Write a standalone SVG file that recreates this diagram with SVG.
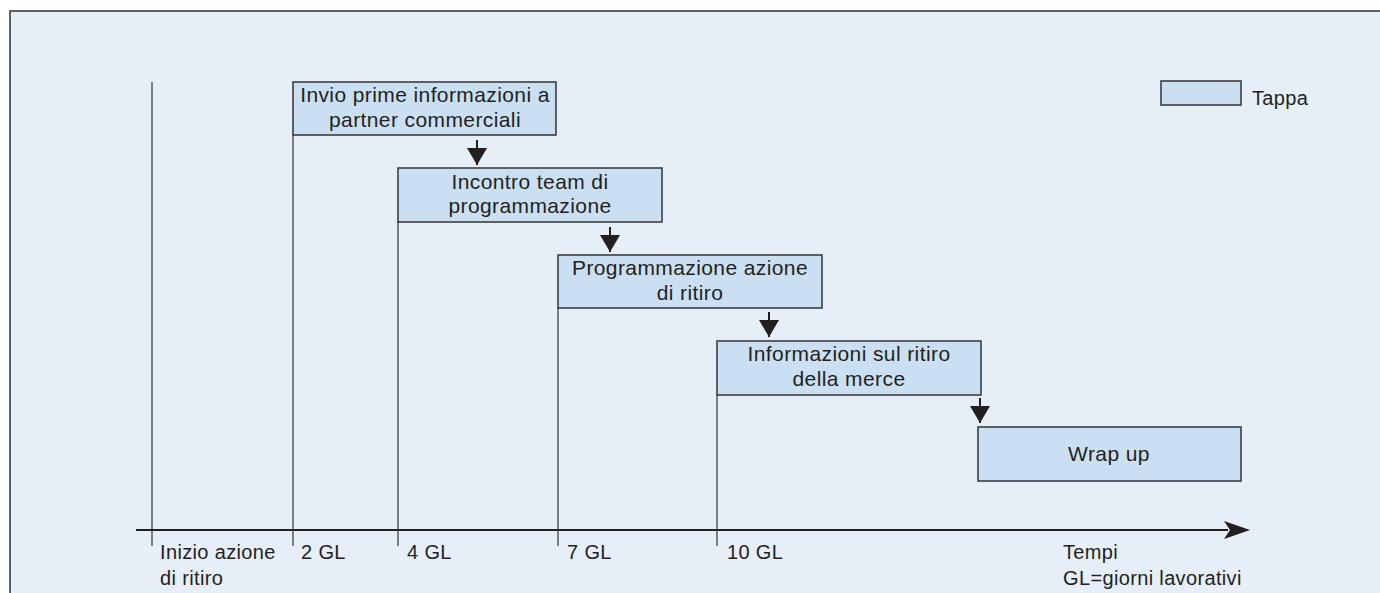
<svg xmlns="http://www.w3.org/2000/svg" width="1380" height="593" viewBox="0 0 1380 593">
<style>
.box{fill:#cbdff2;stroke:#333;stroke-width:1.5}
.t{font-family:"Liberation Sans",Arial,sans-serif;font-size:21px;letter-spacing:0.4px;fill:#231f20}
.c{text-anchor:middle}
.ax{font-family:"Liberation Sans",Arial,sans-serif;font-size:20px;letter-spacing:0.35px;fill:#231f20}
.ln{stroke:#333;stroke-width:1.2;fill:none}
.ar{stroke:#231f20;stroke-width:2;fill:none}
</style>
<defs>
<marker id="ah" viewBox="0 0 17 20" refX="17" refY="10" markerWidth="17" markerHeight="20" markerUnits="userSpaceOnUse" orient="auto">
<path d="M0,0 L17,10 L0,20 Z" fill="#231f20"/>
</marker>
</defs>
<rect x="0" y="0" width="1380" height="593" fill="#fff"/>
<rect x="10" y="11" width="1400" height="620" fill="#e6eef8" stroke="#3c3c3c" stroke-width="1.6"/>
<g id="axes">
<line class="ln" x1="152" y1="82" x2="152" y2="546"/>
<line x1="136" y1="530" x2="1228" y2="530" stroke="#231f20" stroke-width="1.8"/>
<path d="M1250,530 L1224,521 L1230,530 L1224,539 Z" fill="#231f20"/>
<line class="ln" x1="293" y1="135" x2="293" y2="546"/>
<line class="ln" x1="398" y1="222" x2="398" y2="546"/>
<line class="ln" x1="558" y1="308" x2="558" y2="546"/>
<line class="ln" x1="717" y1="395" x2="717" y2="546"/>
<text class="ax" x="160" y="559">Inizio azione</text>
<text class="ax" x="160" y="585">di ritiro</text>
<text class="ax" x="301" y="559">2 GL</text>
<text class="ax" x="407" y="559">4 GL</text>
<text class="ax" x="567" y="559">7 GL</text>
<text class="ax" x="727" y="559">10 GL</text>
<text class="ax" x="1063" y="559">Tempi</text>
<text class="ax" x="1063" y="585">GL=giorni lavorativi</text>
</g>
<g id="n1">
<rect class="box" x="293" y="82" width="263" height="53"/>
<text class="t c" x="425" y="102">Invio prime informazioni a</text>
<text class="t c" x="425" y="127">partner commerciali</text>
</g>
<g id="n2">
<rect class="box" x="398" y="168" width="264" height="54"/>
<text class="t c" x="530" y="189">Incontro team di</text>
<text class="t c" x="530" y="213">programmazione</text>
</g>
<g id="n3">
<rect class="box" x="558" y="255" width="264" height="53"/>
<text class="t c" x="690" y="275">Programmazione azione</text>
<text class="t c" x="690" y="300">di ritiro</text>
</g>
<g id="n4">
<rect class="box" x="717" y="341" width="264" height="54"/>
<text class="t c" x="849" y="361">Informazioni sul ritiro</text>
<text class="t c" x="849" y="386">della merce</text>
</g>
<g id="n5">
<rect class="box" x="978" y="427" width="263" height="54"/>
<text class="t c" x="1109" y="461">Wrap up</text>
</g>
<g id="legend">
<rect class="box" x="1161" y="81" width="80" height="24"/>
<text class="ax" x="1252" y="105">Tappa</text>
</g>
<g id="connectors">
<line class="ar" x1="477" y1="140" x2="477" y2="165" marker-end="url(#ah)"/>
<line class="ar" x1="610" y1="227" x2="610" y2="252" marker-end="url(#ah)"/>
<line class="ar" x1="769" y1="312" x2="769" y2="337" marker-end="url(#ah)"/>
<line class="ar" x1="980" y1="398" x2="980" y2="423" marker-end="url(#ah)"/>
</g>
</svg>
